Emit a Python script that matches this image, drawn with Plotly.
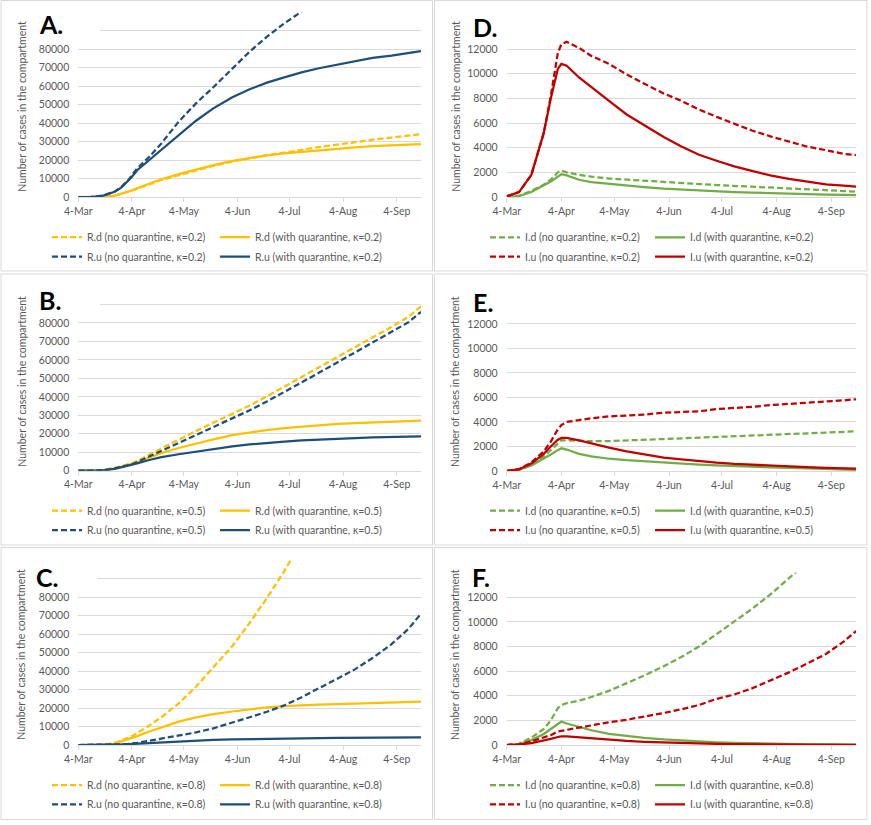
import plotly.graph_objects as go

# ---------------- data ----------------
dates = ["2020-03-04", "2020-03-11", "2020-03-18", "2020-03-25", "2020-03-29",
         "2020-04-02", "2020-04-04", "2020-04-07", "2020-04-14", "2020-04-21",
         "2020-05-01", "2020-05-11", "2020-05-21", "2020-06-01", "2020-06-11",
         "2020-06-21", "2020-07-01", "2020-07-11", "2020-07-21", "2020-08-01",
         "2020-08-11", "2020-08-21", "2020-09-01", "2020-09-11", "2020-09-18"]

x_tick_vals = ["2020-03-04", "2020-04-04", "2020-05-04", "2020-06-04",
               "2020-07-04", "2020-08-04", "2020-09-04"]
x_tick_text = ["4-Mar", "4-Apr", "4-May", "4-Jun", "4-Jul", "4-Aug", "4-Sep"]

r_tick_vals = [0, 10000, 20000, 30000, 40000, 50000, 60000, 70000, 80000, 90000, 100000]
r_tick_text = ["0", "10000", "20000", "30000", "40000", "50000", "60000", "70000", "80000", "", ""]
i_tick_vals = [0, 2000, 4000, 6000, 8000, 10000, 12000, 14000]
i_tick_text = ["0", "2000", "4000", "6000", "8000", "10000", "12000", ""]

# Panel A (kappa = 0.2), recovered
Rd_noq_02 = [0, 0, 100, 700, 1700, 2800, 3500, 4500, 7000, 9200, 11800, 14500, 16800, 19200,
             21000, 22700, 24000, 25600, 27000, 28400, 29800, 31000, 32200, 33200, 34000]
Rd_q_02 = [0, 0, 100, 700, 1700, 2900, 3600, 4700, 7300, 9600, 12400, 15000, 17300, 19500,
           21200, 22500, 23600, 24500, 25300, 26200, 26900, 27500, 28000, 28400, 28600]
Ru_noq_02 = [0, 0, 800, 2900, 5600, 9200, 11900, 15500, 21800, 29000, 40800, 50700, 59400, 69700,
             78700, 86800, 94000, 100400, 106000, None, None, None, None, None, None]
Ru_q_02 = [0, 0, 600, 2800, 5200, 8800, 11000, 14500, 20000, 25500, 33600, 41300, 48000, 54000,
           58300, 61900, 64800, 67500, 69700, 71700, 73600, 75300, 76500, 77800, 79000]

# Panel B (kappa = 0.5), recovered
Rd_noq_05 = [0, 0, 300, 1500, 2500, 3400, 4000, 5300, 8500, 12000, 16800, 21500, 26000, 30800,
             35300, 40300, 45500, 50800, 56000, 61700, 66900, 72200, 77900, 83500, 89000]
Ru_noq_05 = [0, 0, 250, 1300, 2200, 3000, 3500, 4700, 7700, 10800, 15200, 19600, 23800, 28300,
             32700, 37500, 42500, 47800, 53000, 58800, 64000, 69500, 75000, 80500, 86000]
Rd_q_05 = [0, 0, 200, 1200, 2200, 3000, 3500, 4500, 7200, 9500, 12300, 14800, 17000, 19300,
           20800, 22000, 23100, 23900, 24600, 25300, 25800, 26200, 26600, 26900, 27100]
Ru_q_05 = [0, 0, 150, 1000, 1800, 2600, 3100, 4000, 5800, 7300, 8900, 10400, 11900, 13200,
           14200, 15100, 15800, 16400, 16900, 17300, 17700, 18000, 18300, 18500, 18600]

# Panel C (kappa = 0.8), recovered
Rd_noq_08 = [0, 0, 200, 1000, 2500, 3800, 4800, 6500, 10500, 15000, 22500, 31500, 42000, 53500,
             66000, 79500, 94000, 110000, None, None, None, None, None, None, None]
Ru_noq_08 = [0, 0, 50, 200, 400, 600, 800, 1200, 2300, 3400, 5000, 6800, 9000, 12000,
             15000, 18000, 21400, 25800, 30500, 36000, 41000, 47000, 54500, 63000, 71000]
Rd_q_08 = [0, 0, 150, 800, 2000, 3000, 3700, 4800, 7300, 9600, 12600, 14900, 16700, 18100,
           19300, 20300, 21000, 21500, 21800, 22100, 22400, 22700, 23000, 23300, 23500]
Ru_q_08 = [0, 0, 50, 150, 300, 450, 550, 750, 1100, 1500, 2000, 2400, 2800, 3050,
           3250, 3400, 3550, 3650, 3750, 3850, 3900, 3950, 4000, 4050, 4100]

# Panel D (kappa = 0.2), infected
Id_noq_02 = [50, 100, 500, 1000, 1400, 2000, 2150, 2000, 1800, 1650, 1500, 1400, 1300, 1200,
             1130, 1050, 970, 900, 830, 750, 690, 630, 560, 490, 440]
Id_q_02 = [50, 80, 400, 900, 1250, 1650, 1850, 1750, 1400, 1200, 1050, 900, 800, 680,
           600, 530, 460, 400, 350, 300, 260, 230, 200, 180, 160]
Iu_noq_02 = [50, 400, 1800, 5200, 8200, 11700, 12400, 12600, 12100, 11450, 10800, 9950, 9200, 8400,
             7800, 7100, 6500, 5950, 5400, 4900, 4500, 4100, 3800, 3500, 3400]
Iu_q_02 = [50, 400, 1800, 5200, 8000, 10400, 10800, 10650, 9700, 8900, 7800, 6700, 5800, 4870,
           4100, 3430, 2940, 2480, 2120, 1740, 1470, 1250, 1030, 920, 850]

# Panel E (kappa = 0.5), infected
Id_noq_05 = [0, 100, 500, 1200, 1700, 2300, 2520, 2500, 2450, 2430, 2440, 2480, 2540, 2600,
             2660, 2720, 2780, 2830, 2880, 2940, 3000, 3060, 3120, 3180, 3230]
Id_q_05 = [0, 100, 450, 1000, 1350, 1700, 1850, 1750, 1400, 1200, 1000, 880, 780, 680,
           590, 520, 450, 390, 340, 290, 250, 210, 170, 140, 100]
Iu_noq_05 = [0, 150, 700, 1600, 2400, 3400, 3740, 4000, 4150, 4300, 4450, 4500, 4600, 4750,
             4800, 4870, 5050, 5130, 5230, 5380, 5460, 5550, 5660, 5760, 5850]
Iu_q_05 = [0, 150, 600, 1400, 2000, 2550, 2700, 2700, 2500, 2250, 1900, 1600, 1350, 1100,
           950, 800, 680, 580, 500, 420, 360, 310, 260, 230, 200]

# Panel F (kappa = 0.8), infected
Id_noq_08 = [0, 100, 600, 1300, 2000, 3000, 3250, 3400, 3600, 3900, 4400, 5000, 5650, 6400,
             7150, 8000, 9000, 10000, 11050, 12300, 13500, 14800, None, None, None]
Id_q_08 = [0, 80, 400, 900, 1300, 1750, 1900, 1750, 1450, 1200, 900, 720, 580, 450,
           360, 290, 220, 170, 130, 100, 80, 60, 50, 40, 30]
Iu_noq_08 = [0, 50, 300, 600, 800, 1100, 1150, 1250, 1450, 1600, 1850, 2050, 2300, 2600,
             2900, 3250, 3750, 4100, 4600, 5250, 5900, 6600, 7400, 8400, 9250]
Iu_q_08 = [0, 40, 150, 350, 500, 650, 700, 700, 620, 530, 420, 330, 260, 200,
           150, 120, 90, 70, 55, 40, 30, 25, 20, 15, 10]

# ---------------- styling ----------------
W, H = 871, 825
FONT = "Lato"
TXT = "#595959"
GRID = "#D9D9D9"
YELLOW = "#FFC000"
NAVY = "#1F4E79"
GREEN = "#70AD47"
RED = "#C00000"
LW = 2.25
DASH = "6px,3px"


def fx(p):
    return p / W


def fy(p):
    return 1 - p / H


panels = [
    dict(letter="A.", ax=1, xd=(78.3, 421), yd=(12.3, 197), ymax=100000, tv=r_tick_vals, tt=r_tick_text,
         lx=(52, 220), ly=(237, 256.7), tpos=(51, 24), ytpos=(21.7, 106), cover=(30, 100, 3, 42),
         series=[("R.d (no quarantine, κ=0.2)", Rd_noq_02, YELLOW, True),
                 ("R.d (with quarantine, κ=0.2)", Rd_q_02, YELLOW, False),
                 ("R.u (no quarantine, κ=0.2)", Ru_noq_02, NAVY, True),
                 ("R.u (with quarantine, κ=0.2)", Ru_q_02, NAVY, False)]),
    dict(letter="D.", ax=2, xd=(506.7, 856), yd=(24.5, 197), ymax=14000, tv=i_tick_vals, tt=i_tick_text,
         lx=(490, 655), ly=(237.3, 256.7), tpos=(485, 27), ytpos=(455.7, 106), cover=(465, 533, 3, 40),
         series=[("I.d (no quarantine, κ=0.2)", Id_noq_02, GREEN, True),
                 ("I.d (with quarantine, κ=0.2)", Id_q_02, GREEN, False),
                 ("I.u (no quarantine, κ=0.2)", Iu_noq_02, RED, True),
                 ("I.u (with quarantine, κ=0.2)", Iu_q_02, RED, False)]),
    dict(letter="B.", ax=3, xd=(78.3, 421), yd=(286, 470.7), ymax=100000, tv=r_tick_vals, tt=r_tick_text,
         lx=(52, 220), ly=(510.7, 530), tpos=(50, 300), ytpos=(21.7, 381), cover=(30, 100, 277, 315),
         series=[("R.d (no quarantine, κ=0.5)", Rd_noq_05, YELLOW, True),
                 ("R.d (with quarantine, κ=0.5)", Rd_q_05, YELLOW, False),
                 ("R.u (no quarantine, κ=0.5)", Ru_noq_05, NAVY, True),
                 ("R.u (with quarantine, κ=0.5)", Ru_q_05, NAVY, False)]),
    dict(letter="E.", ax=4, xd=(506.7, 856), yd=(299.3, 471), ymax=14000, tv=i_tick_vals, tt=i_tick_text,
         lx=(490, 655), ly=(510.7, 530), tpos=(483, 301.7), ytpos=(455, 381), cover=(465, 533, 277, 315),
         series=[("I.d (no quarantine, κ=0.5)", Id_noq_05, GREEN, True),
                 ("I.d (with quarantine, κ=0.5)", Id_q_05, GREEN, False),
                 ("I.u (no quarantine, κ=0.5)", Iu_noq_05, RED, True),
                 ("I.u (with quarantine, κ=0.5)", Iu_q_05, RED, False)]),
    dict(letter="C.", ax=5, xd=(78.3, 421), yd=(560, 745), ymax=100000, tv=r_tick_vals, tt=r_tick_text,
         lx=(52, 220), ly=(785, 804.3), tpos=(46.5, 576.7), ytpos=(20.7, 654), cover=(30, 97, 550, 590),
         series=[("R.d (no quarantine, κ=0.8)", Rd_noq_08, YELLOW, True),
                 ("R.d (with quarantine, κ=0.8)", Rd_q_08, YELLOW, False),
                 ("R.u (no quarantine, κ=0.8)", Ru_noq_08, NAVY, True),
                 ("R.u (with quarantine, κ=0.8)", Ru_q_08, NAVY, False)]),
    dict(letter="F.", ax=6, xd=(506.7, 856), yd=(572.7, 745), ymax=14000, tv=i_tick_vals, tt=i_tick_text,
         lx=(490, 655), ly=(785, 804.3), tpos=(481, 576.7), ytpos=(455, 654), cover=(465, 533, 550, 590),
         series=[("I.d (no quarantine, κ=0.8)", Id_noq_08, GREEN, True),
                 ("I.d (with quarantine, κ=0.8)", Id_q_08, GREEN, False),
                 ("I.u (no quarantine, κ=0.8)", Iu_noq_08, RED, True),
                 ("I.u (with quarantine, κ=0.8)", Iu_q_08, RED, False)]),
]

borders = [(1, 432.5, 0.5, 271), (434.5, 867, 0.5, 271),
           (1, 432.5, 274, 545), (434.5, 867, 274, 545),
           (1, 432.5, 547.5, 819.5), (434.5, 867, 547.5, 819.5)]

fig = go.Figure()
layout = dict(width=W, height=H, margin=dict(l=0, r=0, t=0, b=0, autoexpand=False),
              paper_bgcolor="white", plot_bgcolor="white",
              font=dict(family=FONT, color=TXT, size=10.5),
              shapes=[], annotations=[])

leg_n = 0
for p in panels:
    n = p["ax"]
    xa = "xaxis" if n == 1 else f"xaxis{n}"
    ya = "yaxis" if n == 1 else f"yaxis{n}"
    xr = "x" if n == 1 else f"x{n}"
    yr = "y" if n == 1 else f"y{n}"
    layout[xa] = dict(domain=[fx(p["xd"][0]), fx(p["xd"][1])], anchor=yr, type="date",
                      range=["2020-03-04", "2020-09-18"], tickvals=x_tick_vals, ticktext=x_tick_text,
                      showline=True, linecolor=GRID, linewidth=1, showgrid=False,
                      ticks="outside", ticklen=4, tickcolor=GRID, tickwidth=1, automargin=False,
                      tickfont=dict(family=FONT, size=10.5, color=TXT), fixedrange=True)
    layout[ya] = dict(domain=[fy(p["yd"][1]), fy(p["yd"][0])], anchor=xr,
                      range=[0, p["ymax"]], tickvals=p["tv"], ticktext=p["tt"],
                      showgrid=True, gridcolor=GRID, gridwidth=1, zeroline=False, showline=False,
                      ticks="", ticklabelstandoff=8, automargin=False,
                      tickfont=dict(family=FONT, size=10.5, color=TXT), fixedrange=True)
    for i, (name, vals, color, dashed) in enumerate(p["series"]):
        leg_n += 1
        lname = "legend" if leg_n == 1 else f"legend{leg_n}"
        col, row = i % 2, i // 2
        fig.add_trace(go.Scatter(x=dates, y=vals, mode="lines", name=name,
                                 line=dict(color=color, width=LW, dash=DASH if dashed else "solid"),
                                 xaxis=xr, yaxis=yr, legend=lname, showlegend=True,
                                 hoverinfo="skip"))
        layout[lname] = dict(x=fx(p["lx"][col] - 5), y=fy(p["ly"][row]), xanchor="left", yanchor="middle",
                             orientation="v", bgcolor="rgba(0,0,0,0)", borderwidth=0,
                             itemwidth=30, font=dict(family=FONT, size=10.5, color=TXT))
    cx0, cx1, cy0, cy1 = p["cover"]
    layout["shapes"].append(dict(type="rect", xref="paper", yref="paper", layer="above",
                                 x0=fx(cx0), x1=fx(cx1), y0=fy(cy1), y1=fy(cy0),
                                 fillcolor="white", line=dict(width=0)))
    layout["annotations"].append(dict(text=f"<b>{p['letter']}</b>", xref="paper", yref="paper",
                                      x=fx(p["tpos"][0]), y=fy(p["tpos"][1]), xanchor="center",
                                      yanchor="middle", showarrow=False,
                                      font=dict(family=FONT, size=25, color="black")))
    layout["annotations"].append(dict(text="Number of cases in the compartment", xref="paper", yref="paper",
                                      x=fx(p["ytpos"][0]), y=fy(p["ytpos"][1]), xanchor="center",
                                      yanchor="middle", showarrow=False, textangle=-90,
                                      font=dict(family=FONT, size=10.5, color=TXT)))

for (x0, x1, y0, y1) in borders:
    layout["shapes"].append(dict(type="rect", xref="paper", yref="paper", layer="above",
                                 x0=fx(x0), x1=fx(x1), y0=fy(y1), y1=fy(y0),
                                 fillcolor="rgba(0,0,0,0)", line=dict(color=GRID, width=1)))

fig.update_layout(**layout)
fig.write_html("out.html", config={"displayModeBar": False},
               post_script="document.body.style.margin='0px';")
